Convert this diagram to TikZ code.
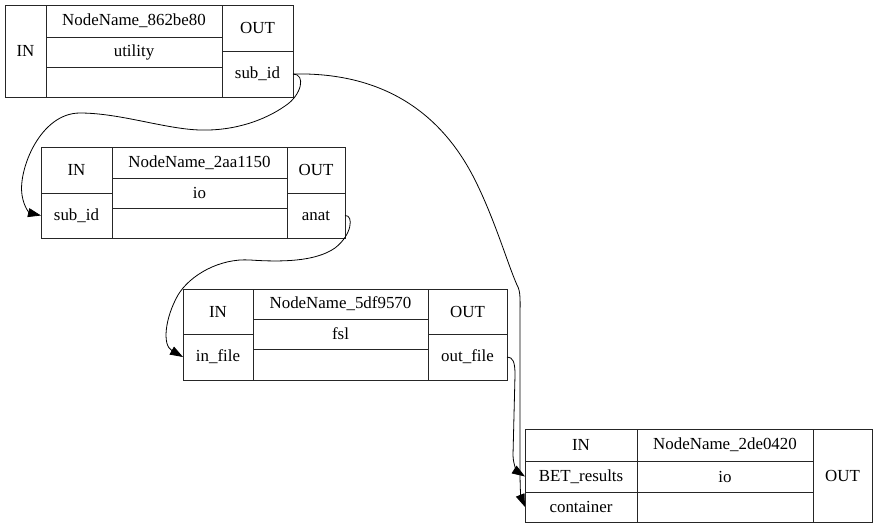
\documentclass[tikz,border=0pt]{standalone}
\usepackage{fontspec}
\setmainfont{Liberation Serif}
\usetikzlibrary{arrows.meta}

% one record cell: name, x1, y1, x2, y2, label
\newcommand{\reccell}[6]{%
  \node[cellbox, minimum width={#4-#2}, minimum height={#5-#3}]
    (#1) at ({(#2+#4)/2},{(#3+#5)/2}) {#6};}

\begin{document}
\begin{tikzpicture}[x=1pt, y=-1pt,
  cellbox/.style={draw=black!85, line width=1pt, rectangle, inner sep=0pt,
    outer sep=0pt, font=\fontsize{16.9}{20}\selectfont},
  edge/.style={draw=black, line width=0.8pt,
    -{Triangle[length=13pt, width=9pt]}}]
\useasboundingbox (0,0) rectangle (877,528);

% NodeName_862be80
\reccell{aIn}{5}{5}{46}{97}{IN}
\reccell{aName}{46}{5}{222}{37}{NodeName\_862be80}
\reccell{aType}{46}{37}{222}{67}{utility}
\reccell{aBlank}{46}{67}{222}{97}{}
\reccell{aOut}{222}{5}{293}{51}{OUT}
\reccell{aSubId}{222}{51}{293}{97}{sub\_id}

% NodeName_2aa1150
\reccell{bIn}{41}{147}{112}{193}{IN}
\reccell{bSubId}{41}{193}{112}{238}{sub\_id}
\reccell{bName}{112}{147}{287}{178}{NodeName\_2aa1150}
\reccell{bType}{112}{178}{287}{208}{io}
\reccell{bBlank}{112}{208}{287}{238}{}
\reccell{bOut}{287}{147}{345}{193}{OUT}
\reccell{bAnat}{287}{193}{345}{238}{anat}

% NodeName_5df9570
\reccell{cIn}{183}{289}{253}{334}{IN}
\reccell{cInFile}{183}{334}{253}{380}{in\_file}
\reccell{cName}{253}{289}{428}{319}{NodeName\_5df9570}
\reccell{cType}{253}{319}{428}{349}{fsl}
\reccell{cBlank}{253}{349}{428}{380}{}
\reccell{cOut}{428}{289}{507}{334}{OUT}
\reccell{cOutFile}{428}{334}{507}{380}{out\_file}

% NodeName_2de0420
\reccell{dIn}{525}{429}{637}{461}{IN}
\reccell{dBet}{525}{461}{637}{492}{BET\_results}
\reccell{dCont}{525}{492}{637}{522}{container}
\reccell{dName}{637}{429}{813}{461}{NodeName\_2de0420}
\reccell{dType}{637}{461}{813}{492}{io}
\reccell{dBlank}{637}{492}{813}{522}{}
\reccell{dOut}{813}{429}{872}{522}{OUT}

% connectors
\draw[edge] (aSubId.east) .. controls (306,74) and (302,95) .. (285,106)
  .. controls (265,120) and (235,131) .. (200,130)
  .. controls (165,129) and (120,113) .. (80,113)
  .. controls (40,113) and (18,170) .. (22,195)
  .. controls (24,208) and (30,213) .. (bSubId.west);

\draw[edge] (bAnat.east) .. controls (354,215) and (352,235) .. (335,248)
  .. controls (315,262) and (280,262) .. (250,260)
  .. controls (220,258) and (190,275) .. (178,295)
  .. controls (165,318) and (162,345) .. (cInFile.west);

\draw[edge] (aSubId.east) .. controls (380,72) and (440,110) .. (475,180)
  .. controls (495,220) and (508,265) .. (517,285)
  .. controls (521,292) and (520,300) .. (520,320)
  -- (520,470)
  .. controls (520,490) and (521,497) .. (dCont.west);

\draw[edge] (cOutFile.east) .. controls (513,357) and (515,362) .. (515,375)
  -- (513,455)
  .. controls (513,465) and (518,472) .. (dBet.west);
\end{tikzpicture}
\end{document}
